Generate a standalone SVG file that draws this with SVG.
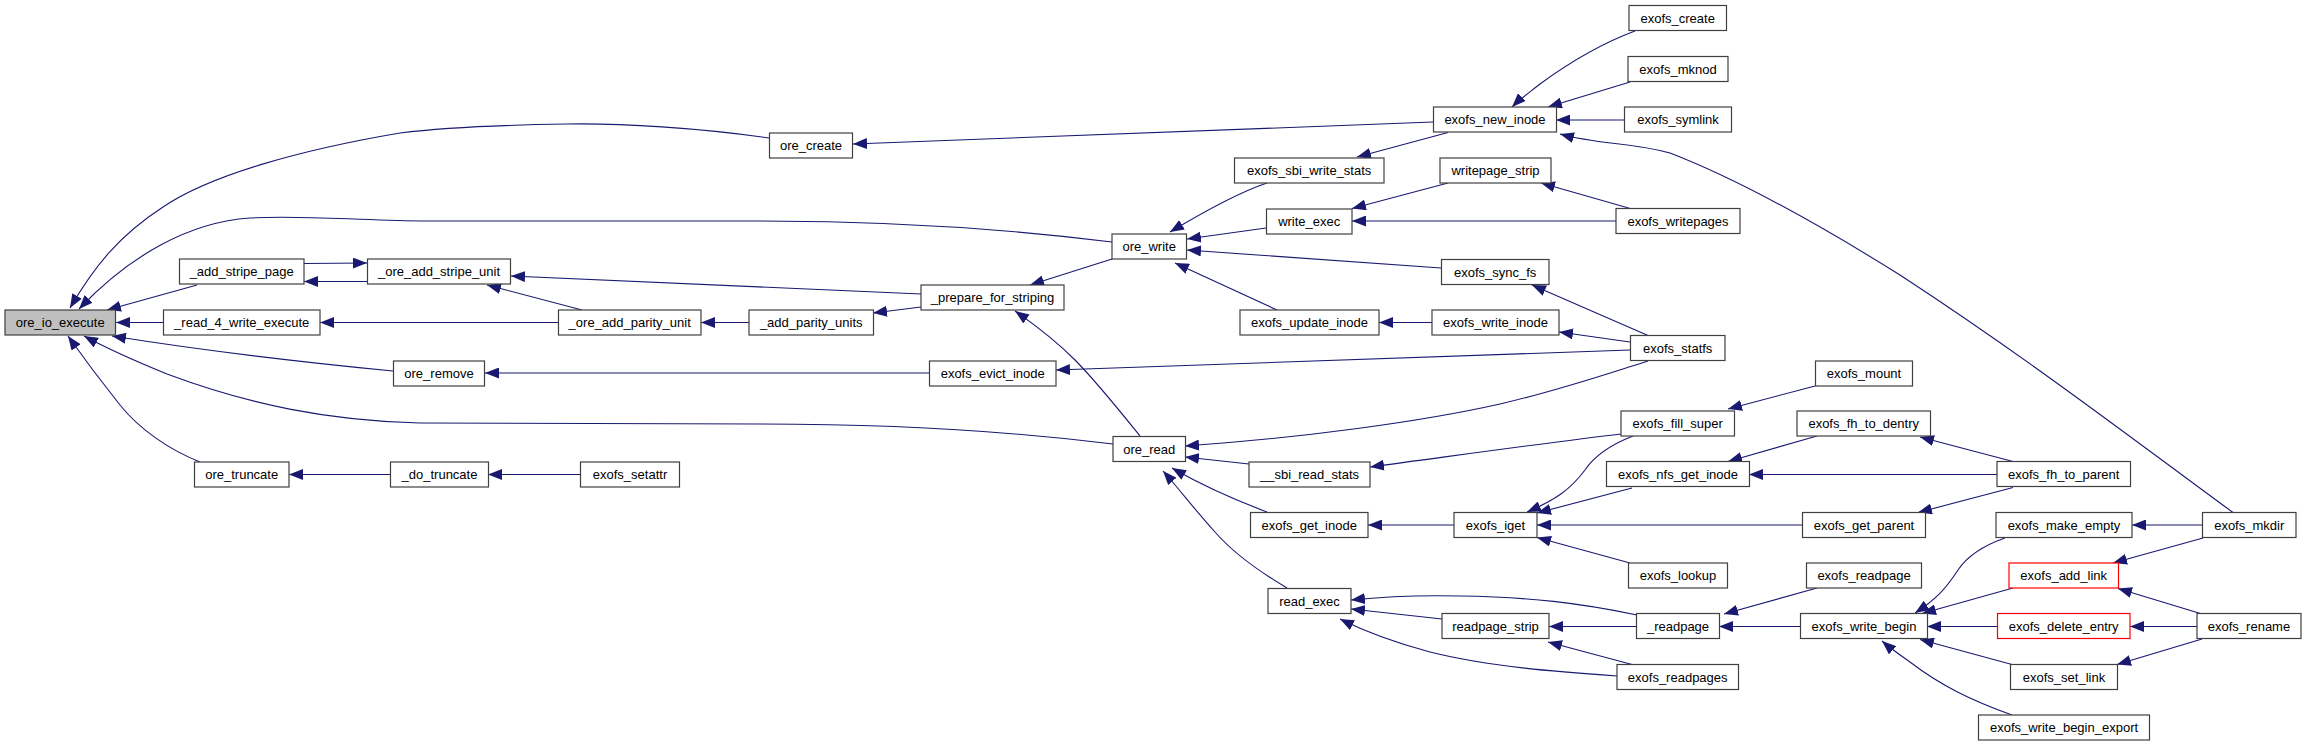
<svg xmlns="http://www.w3.org/2000/svg" width="2307" height="747" viewBox="0 0 2307 747">
<style>
.n rect{fill:#ffffff;stroke:#404040;stroke-width:1.2}
.root rect{fill:#bfbfbf}
.red rect{stroke:#ff0000}
.n text{font-family:"Liberation Sans",Arial,sans-serif;font-size:13px;fill:#000;text-anchor:middle}
#edges path{fill:none;stroke:#191970;stroke-width:1.1;marker-end:url(#ah)}
</style>
<defs>
<marker id="ah" markerUnits="userSpaceOnUse" markerWidth="14" markerHeight="11" refX="14" refY="5.5" orient="auto">
<path d="M0,0 L14,5.5 L0,11 z" fill="#191970"/>
</marker>
</defs>
<rect width="2307" height="747" fill="#ffffff"/>
<g id="edges">
<path d="M769,138 C700,128 620,123 567,124 C500,125 440,128 400,133 C300,150 210,175 163,207 C120,235 95,265 70,308"/>
<path d="M1112,242 C1000,228 880,221 760,221 L420,221 C350,220 300,215 250,218 C190,222 130,255 79,309"/>
<path d="M197,285 L107,310"/>
<path d="M163,322.5 L116,322.5"/>
<path d="M393,371 C300,362 200,350 112,336"/>
<path d="M1113,444 C1000,430 880,424 760,424 L420,423 C330,421 250,405 167,374 C140,363 110,350 84,336"/>
<path d="M200,462 C170,450 140,430 120,405 C100,380 85,360 68,336"/>
<path d="M367,281.5 L304,281.5"/>
<path d="M304,263.5 L367,263"/>
<path d="M921,294 L511,276"/>
<path d="M582,310 L487,285"/>
<path d="M558,322.5 L320,322.5"/>
<path d="M749,322.5 L701,322.5"/>
<path d="M921,307 L873,313"/>
<path d="M1112,259 L1030,285"/>
<path d="M1140,436 C1115,405 1095,380 1075,360 C1055,340 1035,325 1015,311"/>
<path d="M1433,122 L853,144"/>
<path d="M1267,183 C1240,192 1210,208 1170,232"/>
<path d="M1266,228 L1187,239"/>
<path d="M1441,268 L1187,250"/>
<path d="M1277,310 L1175,263"/>
<path d="M1448,132.5 L1357,157"/>
<path d="M1448,183 L1352,208.5"/>
<path d="M1616,221 L1352,221"/>
<path d="M1632,209 L1541,183"/>
<path d="M1648,335.5 L1532,285"/>
<path d="M1630,342 L1559,332"/>
<path d="M1432,322.5 L1379,322.5"/>
<path d="M1630,350 L1056,370"/>
<path d="M929,373 L485,373"/>
<path d="M1648,361 C1600,376 1560,390 1500,404 C1420,422 1300,438 1185,446"/>
<path d="M1249,464 L1185,457"/>
<path d="M1267,512 C1235,500 1205,487 1172,468"/>
<path d="M1287,588 C1260,572 1235,555 1215,532 C1195,510 1180,490 1163,471"/>
<path d="M1621,434 C1560,441 1460,455 1370,467"/>
<path d="M1815,386 L1728,409"/>
<path d="M1454,525 L1368,525"/>
<path d="M1633,436 C1610,445 1595,455 1585,470 C1570,490 1555,500 1527,512"/>
<path d="M1632,488 L1537,513"/>
<path d="M1802,525 L1537,525"/>
<path d="M1630,563 L1537,537.5"/>
<path d="M1817,436 L1728,461.5"/>
<path d="M1997,474.5 L1749,474.5"/>
<path d="M2013,461.5 L1920,437"/>
<path d="M2013,487.5 L1918,512.5"/>
<path d="M1817,588 L1724,614"/>
<path d="M1800,626.5 L1719,626.5"/>
<path d="M1636,626.5 L1549,626.5"/>
<path d="M1637,615 C1580,603 1530,597 1460,596 C1420,595 1390,596 1351,600"/>
<path d="M1442,619 L1351,609"/>
<path d="M1617,676 C1560,672 1490,667 1430,652 C1400,644 1370,634 1340,619"/>
<path d="M1632,664.5 L1548,642"/>
<path d="M2233,512.5 C2130,437 2030,360 1900,275 C1820,225 1740,180 1670,153 C1630,142 1600,145 1560,134"/>
<path d="M1635,31 C1600,44 1570,62 1540,84 C1530,92 1520,99 1512,107"/>
<path d="M1630,82 L1548,107"/>
<path d="M1624,120 L1556,120"/>
<path d="M2005,538 C1985,545 1968,555 1958,570 C1945,590 1935,600 1915,613"/>
<path d="M2013,588 L1922,613.5"/>
<path d="M1997,626.5 L1927,626.5"/>
<path d="M2012,664.5 L1920,639.5"/>
<path d="M2012,715 C1970,700 1940,685 1910,662 C1900,655 1890,648 1882,641"/>
<path d="M2202,525 L2132,525"/>
<path d="M2203,538 L2113,563"/>
<path d="M2202,614 L2118,588.5"/>
<path d="M2197,626.5 L2130,626.5"/>
<path d="M2202,639 L2117,664.5"/>
<path d="M390,474.5 L289,474.5"/>
<path d="M580,474.5 L488,474.5"/>
</g>
<g id="ore_io_execute" class="n root"><rect x="5" y="310" width="110.5" height="25"/><text x="60.2" y="327">ore_io_execute</text></g>
<g id="_add_stripe_page" class="n"><rect x="179.5" y="259" width="124.5" height="25"/><text x="241.7" y="276">_add_stripe_page</text></g>
<g id="_read_4_write_execute" class="n"><rect x="163.5" y="310" width="156.5" height="25"/><text x="241.7" y="327">_read_4_write_execute</text></g>
<g id="ore_truncate" class="n"><rect x="194.5" y="462" width="94.5" height="25"/><text x="241.7" y="479">ore_truncate</text></g>
<g id="_ore_add_stripe_unit" class="n"><rect x="367.5" y="259" width="143" height="25"/><text x="439" y="276">_ore_add_stripe_unit</text></g>
<g id="_ore_add_parity_unit" class="n"><rect x="558.5" y="310" width="142.5" height="25"/><text x="629.7" y="327">_ore_add_parity_unit</text></g>
<g id="ore_remove" class="n"><rect x="393.5" y="361" width="91" height="25"/><text x="439" y="378">ore_remove</text></g>
<g id="_do_truncate" class="n"><rect x="390.5" y="462" width="98" height="25"/><text x="439.5" y="479">_do_truncate</text></g>
<g id="exofs_setattr" class="n"><rect x="580.5" y="462" width="99" height="25"/><text x="630" y="479">exofs_setattr</text></g>
<g id="ore_create" class="n"><rect x="769.5" y="133" width="83" height="25"/><text x="811" y="150">ore_create</text></g>
<g id="_add_parity_units" class="n"><rect x="749" y="310" width="124.5" height="25"/><text x="811.2" y="327">_add_parity_units</text></g>
<g id="_prepare_for_striping" class="n"><rect x="921" y="285" width="143" height="25"/><text x="992.5" y="302">_prepare_for_striping</text></g>
<g id="exofs_evict_inode" class="n"><rect x="929.5" y="361" width="126.5" height="25"/><text x="992.7" y="378">exofs_evict_inode</text></g>
<g id="ore_write" class="n"><rect x="1112" y="234" width="74.5" height="25"/><text x="1149.2" y="251">ore_write</text></g>
<g id="ore_read" class="n"><rect x="1113" y="436.5" width="72.5" height="25"/><text x="1149.2" y="453.5">ore_read</text></g>
<g id="exofs_sbi_write_stats" class="n"><rect x="1234.5" y="158" width="149.5" height="25"/><text x="1309.2" y="175">exofs_sbi_write_stats</text></g>
<g id="write_exec" class="n"><rect x="1266.5" y="209" width="85.5" height="25"/><text x="1309.2" y="226">write_exec</text></g>
<g id="exofs_update_inode" class="n"><rect x="1240" y="310" width="139" height="25"/><text x="1309.5" y="327">exofs_update_inode</text></g>
<g id="__sbi_read_stats" class="n"><rect x="1249" y="462" width="121" height="25"/><text x="1309.5" y="479">__sbi_read_stats</text></g>
<g id="exofs_get_inode" class="n"><rect x="1250.5" y="512.5" width="117.5" height="25"/><text x="1309.2" y="529.5">exofs_get_inode</text></g>
<g id="read_exec" class="n"><rect x="1268" y="588.5" width="83" height="25"/><text x="1309.5" y="605.5">read_exec</text></g>
<g id="exofs_new_inode" class="n"><rect x="1433.5" y="107" width="123" height="25"/><text x="1495" y="124">exofs_new_inode</text></g>
<g id="writepage_strip" class="n"><rect x="1440" y="158" width="111" height="25"/><text x="1495.5" y="175">writepage_strip</text></g>
<g id="exofs_sync_fs" class="n"><rect x="1441.5" y="259.5" width="107.5" height="25"/><text x="1495.2" y="276.5">exofs_sync_fs</text></g>
<g id="exofs_write_inode" class="n"><rect x="1432" y="310" width="127" height="25"/><text x="1495.5" y="327">exofs_write_inode</text></g>
<g id="exofs_iget" class="n"><rect x="1454" y="512.5" width="83" height="25"/><text x="1495.5" y="529.5">exofs_iget</text></g>
<g id="readpage_strip" class="n"><rect x="1442" y="613.5" width="107" height="25"/><text x="1495.5" y="630.5">readpage_strip</text></g>
<g id="exofs_create" class="n"><rect x="1629" y="5.5" width="97.5" height="25"/><text x="1677.7" y="22.5">exofs_create</text></g>
<g id="exofs_mknod" class="n"><rect x="1628" y="56.5" width="100" height="25"/><text x="1678" y="73.5">exofs_mknod</text></g>
<g id="exofs_symlink" class="n"><rect x="1624.5" y="107" width="107" height="25"/><text x="1678" y="124">exofs_symlink</text></g>
<g id="exofs_writepages" class="n"><rect x="1616" y="208.5" width="124" height="25"/><text x="1678" y="225.5">exofs_writepages</text></g>
<g id="exofs_statfs" class="n"><rect x="1630.5" y="335.5" width="94.5" height="25"/><text x="1677.7" y="352.5">exofs_statfs</text></g>
<g id="exofs_fill_super" class="n"><rect x="1621" y="411" width="113.5" height="25"/><text x="1677.7" y="428">exofs_fill_super</text></g>
<g id="exofs_nfs_get_inode" class="n"><rect x="1606.5" y="461.5" width="143" height="25"/><text x="1678" y="478.5">exofs_nfs_get_inode</text></g>
<g id="exofs_lookup" class="n"><rect x="1628.5" y="563" width="99" height="25"/><text x="1678" y="580">exofs_lookup</text></g>
<g id="_readpage" class="n"><rect x="1636.5" y="613.5" width="83" height="25"/><text x="1678" y="630.5">_readpage</text></g>
<g id="exofs_readpages" class="n"><rect x="1617" y="664.5" width="121.5" height="25"/><text x="1677.7" y="681.5">exofs_readpages</text></g>
<g id="exofs_mount" class="n"><rect x="1815.5" y="361" width="97" height="25"/><text x="1864" y="378">exofs_mount</text></g>
<g id="exofs_fh_to_dentry" class="n"><rect x="1797" y="411" width="133.5" height="25"/><text x="1863.7" y="428">exofs_fh_to_dentry</text></g>
<g id="exofs_get_parent" class="n"><rect x="1802.5" y="512.5" width="123" height="25"/><text x="1864" y="529.5">exofs_get_parent</text></g>
<g id="exofs_readpage" class="n"><rect x="1806.5" y="563" width="115" height="25"/><text x="1864" y="580">exofs_readpage</text></g>
<g id="exofs_write_begin" class="n"><rect x="1800.5" y="613.5" width="127" height="25"/><text x="1864" y="630.5">exofs_write_begin</text></g>
<g id="exofs_fh_to_parent" class="n"><rect x="1997" y="461.5" width="133.5" height="25"/><text x="2063.7" y="478.5">exofs_fh_to_parent</text></g>
<g id="exofs_make_empty" class="n"><rect x="1996" y="512.5" width="136" height="25"/><text x="2064" y="529.5">exofs_make_empty</text></g>
<g id="exofs_add_link" class="n red"><rect x="2009" y="563" width="109.5" height="25"/><text x="2063.7" y="580">exofs_add_link</text></g>
<g id="exofs_delete_entry" class="n red"><rect x="1997.5" y="613.5" width="132.5" height="25"/><text x="2063.7" y="630.5">exofs_delete_entry</text></g>
<g id="exofs_set_link" class="n"><rect x="2010.5" y="664.5" width="107" height="25"/><text x="2064" y="681.5">exofs_set_link</text></g>
<g id="exofs_write_begin_export" class="n"><rect x="1978.5" y="715" width="171" height="25"/><text x="2064" y="732">exofs_write_begin_export</text></g>
<g id="exofs_mkdir" class="n"><rect x="2202.5" y="512.5" width="93.5" height="25"/><text x="2249.2" y="529.5">exofs_mkdir</text></g>
<g id="exofs_rename" class="n"><rect x="2197" y="613.5" width="104" height="25"/><text x="2249" y="630.5">exofs_rename</text></g>
</svg>
